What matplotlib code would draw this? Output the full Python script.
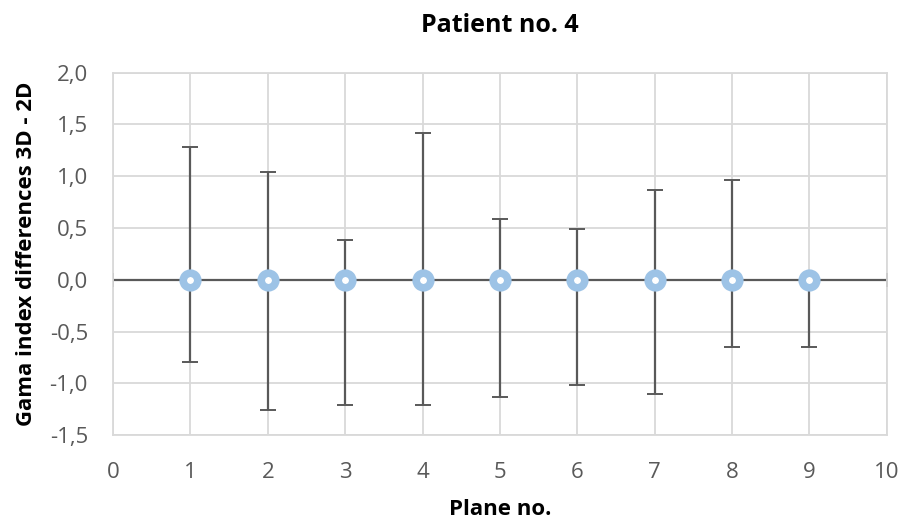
import numpy as np
import matplotlib.pyplot as plt
from matplotlib.ticker import FuncFormatter, MultipleLocator

# plane numbers and mean gamma index differences (3D - 2D)
plane = [1, 2, 3, 4, 5, 6, 7, 8, 9]
gama_diff = [0, 0, 0, 0, 0, 0, 0, 0, 0]
err_up = [1.28, 1.04, 0.38, 1.42, 0.59, 0.49, 0.87, 0.96, 0.0]
err_down = [0.79, 1.26, 1.21, 1.21, 1.13, 1.02, 1.10, 0.65, 0.65]

# horizontal spread drawn around the middle plane
x_centre = 5
x_spread = 5

plt.rcParams['font.family'] = ['Open Sans', 'DejaVu Sans']

fig = plt.figure(figsize=(9.04, 5.23), dpi=100)
ax = fig.add_axes([0.125, 0.168, 0.856, 0.693])

ax.errorbar(x_centre, 0, xerr=x_spread, fmt='none', ecolor='#595959',
            elinewidth=1.6, capsize=5, capthick=1.4, zorder=2)
ax.errorbar(plane, gama_diff, yerr=[err_down, err_up], fmt='none',
            ecolor='#595959', elinewidth=1.6, capsize=6, capthick=1.4, zorder=2)
ax.plot(plane, gama_diff, 'o', markersize=10.5, markerfacecolor='white',
        markeredgecolor='#9DC3E6', markeredgewidth=5.5, zorder=3)

ax.set_xlim(0, 10)
ax.set_ylim(-1.5, 2.0)
ax.xaxis.set_major_locator(MultipleLocator(1))
ax.yaxis.set_major_locator(MultipleLocator(0.5))
ax.yaxis.set_major_formatter(FuncFormatter(lambda v, p: f'{v:.1f}'.replace('.', ',')))

ax.grid(True, color='#d9d9d9', linewidth=1.3)
ax.set_axisbelow(True)
for s in ax.spines.values():
    s.set_color('#d9d9d9')
    s.set_linewidth(1.3)
ax.tick_params(length=0, labelsize=16, colors='#595959')
ax.tick_params(axis='x', pad=19)
ax.tick_params(axis='y', pad=18)

ax.set_title('Patient no. 4', fontsize=18, fontweight='bold', pad=29)
ax.set_xlabel('Plane no.', fontsize=16, fontweight='bold', labelpad=12)
ax.set_ylabel('Gama index differences 3D - 2D', fontsize=16, fontweight='bold', labelpad=9)

fig.savefig('out.png', dpi=100)
